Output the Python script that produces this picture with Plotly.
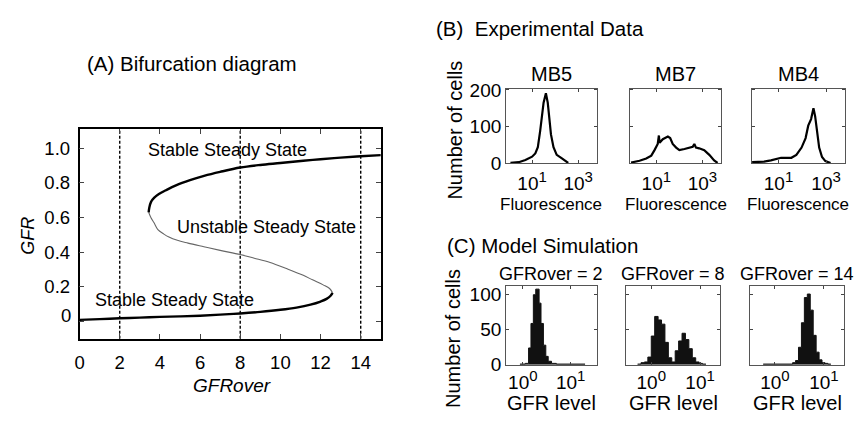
import plotly.graph_objects as go

W, H = 860, 426
FONT = "Arial, 'Liberation Sans', Helvetica, sans-serif"

# ---------------- Panel A: bifurcation diagram data ----------------
lower_gfrover = [0, 1, 2, 3, 4, 5, 6, 7, 8, 9, 10, 10.8, 11.5, 12.0, 12.3, 12.5, 12.6]
lower_gfr = [0.009, 0.013, 0.018, 0.022, 0.026, 0.029, 0.033, 0.039, 0.046, 0.055,
             0.067, 0.08, 0.097, 0.115, 0.13, 0.148, 0.165]
unstable_gfrover = [12.6, 12.45, 12.13, 11.6, 11.14, 10.3, 9.49, 8.7, 8.0, 7.0, 6.19,
                    5.4, 4.87, 4.45, 4.2, 3.9, 3.71, 3.55, 3.44]
unstable_gfr = [0.165, 0.19, 0.211, 0.24, 0.266, 0.305, 0.34, 0.365, 0.386, 0.41, 0.431,
                0.452, 0.468, 0.487, 0.504, 0.53, 0.569, 0.6, 0.63]
upper_gfrover = [3.44, 3.47, 3.56, 3.72, 3.95, 4.3, 4.8, 5.5, 6.2, 7.0, 8.0, 9.0, 10.0,
                 11.14, 12.0, 13.0, 14.0, 15.0]
upper_gfr = [0.63, 0.655, 0.69, 0.714, 0.735, 0.757, 0.785, 0.815, 0.84, 0.863, 0.888,
             0.903, 0.914, 0.927, 0.936, 0.945, 0.953, 0.96]
sim_gfrover_levels = [2, 8, 14]
a_xticks = [0, 2, 4, 6, 8, 10, 12, 14]
a_yticks = [0, 0.2, 0.4, 0.6, 0.8, 1.0]
a_yticklabels = ["", "0.2", "0.4", "0.6", "0.8", "1.0"]

# ---------------- Panel B: experimental data (log10 fluorescence, cells) ----------------
mb5_logf = [0.06, 0.42, 0.71, 1.0, 1.14, 1.25, 1.35, 1.43, 1.5, 1.6, 1.68, 1.75, 1.82,
            1.93, 2.07, 2.28, 2.43, 2.57]
mb5_cells = [0, 2, 8, 17, 26, 43, 87, 130, 165, 191, 165, 122, 78, 43, 22, 13, 6, 0]
mb7_logf = [-0.1, 0.27, 0.56, 0.78, 0.92, 1.06, 1.11, 1.14, 1.28, 1.5, 1.6, 1.71, 1.86,
            2.0, 2.22, 2.43, 2.58, 2.65, 2.72, 2.86, 3.08, 3.3, 3.51, 3.66]
mb7_cells = [1, 6, 12, 20, 35, 52, 75, 55, 65, 72, 68, 52, 42, 35, 38, 42, 44, 52, 42,
             40, 35, 22, 7, 0]
mb4_logf = [-0.11, 0.39, 0.68, 0.9, 1.11, 1.32, 1.54, 1.75, 1.97, 2.14, 2.25, 2.37, 2.47,
            2.54, 2.61, 2.71, 2.83, 2.97, 3.19]
mb4_cells = [2, 3.5, 7, 11, 14, 14, 14, 22, 42, 68, 102, 120, 150, 128, 85, 42, 16, 5, 0]
b_names = ["MB5", "MB7", "MB4"]
b_xtickvals = [10, 1000]
b_xtickexp = ["1", "3"]
b_yticks = [0, 100, 200]

# ---------------- Panel C: model simulation histograms (log10 GFR bin edges, cells) -------
c1_edges = [-0.06, 0.05, 0.12, 0.17, 0.22, 0.27, 0.34, 0.38, 0.43, 0.48, 0.53, 0.60, 0.70, 1.30]
c1_cells = [1, 2, 24, 59, 100, 108, 88, 59, 28, 12, 5, 2, 1]
c2_edges = [-0.28, -0.21, -0.14, -0.07, 0.0, 0.07, 0.14, 0.21, 0.28, 0.35, 0.42, 0.49, 0.56,
            0.63, 0.70, 0.77, 0.84, 0.91, 0.98, 1.05, 1.12]
c2_cells = [1, 3, 4, 11, 41, 69, 64, 58, 32, 10, 4, 20, 34, 45, 36, 23, 10, 4, 2, 1]
c3_edges = [-0.24, 0.36, 0.42, 0.48, 0.54, 0.60, 0.66, 0.72, 0.78, 0.84, 0.90, 0.96, 1.02,
            1.08, 1.14]
c3_cells = [1, 3, 6, 25, 60, 96, 101, 78, 42, 18, 7, 3, 2, 1]
c_titles = ["GFRover = 2", "GFRover = 8", "GFRover = 14"]
c_xtickvals = [1, 10]
c_xtickexp = ["0", "1"]
c_yticks = [0, 50, 100]


def px(x):
    return x / W


def py(y):
    return 1 - y / H


def pow_label(e):
    return '10<sup><span style="font-size:15px">' + e + '</span></sup>'


fig = go.Figure()

# ---- Panel A traces
for xv in sim_gfrover_levels:
    fig.add_trace(go.Scatter(x=[xv, xv], y=[-0.1, 1.11], mode="lines",
                             line=dict(color="black", width=1.4, dash="3px,2px"),
                             xaxis="x", yaxis="y", showlegend=False))
fig.add_trace(go.Scatter(x=lower_gfrover, y=lower_gfr, mode="lines", line_shape="spline",
                         line=dict(color="black", width=2.4), xaxis="x", yaxis="y",
                         showlegend=False))
fig.add_trace(go.Scatter(x=unstable_gfrover, y=unstable_gfr, mode="lines", line_shape="spline",
                         line=dict(color="#666666", width=1.1), xaxis="x", yaxis="y",
                         showlegend=False))
fig.add_trace(go.Scatter(x=upper_gfrover, y=upper_gfr, mode="lines", line_shape="spline",
                         line=dict(color="black", width=2.4), xaxis="x", yaxis="y",
                         showlegend=False))

# ---- Panel B traces
b_data = [(mb5_logf, mb5_cells), (mb7_logf, mb7_cells), (mb4_logf, mb4_cells)]
for i, (lf, cells) in enumerate(b_data):
    ax = str(i + 2)
    fig.add_trace(go.Scatter(x=[10 ** v for v in lf], y=cells, mode="lines",
                             line=dict(color="black", width=2.2),
                             xaxis="x" + ax, yaxis="y" + ax, showlegend=False))

# ---- Panel C traces (step histograms)
c_data = [(c1_edges, c1_cells), (c2_edges, c2_cells), (c3_edges, c3_cells)]
for i, (edges, cells) in enumerate(c_data):
    ax = str(i + 5)
    xs = [10 ** e for e in edges]
    ys = list(cells) + [cells[-1]]
    fig.add_trace(go.Scatter(x=xs, y=ys, mode="lines", line_shape="hv",
                             line=dict(color="#111111", width=1), fill="tozeroy",
                             fillcolor="#111111", xaxis="x" + ax, yaxis="y" + ax,
                             showlegend=False))

layout = dict(
    width=W, height=H, margin=dict(l=0, r=0, t=0, b=0),
    paper_bgcolor="white", plot_bgcolor="white",
    font=dict(family=FONT, color="black"),
)

# Panel A axes
layout["xaxis"] = dict(domain=[px(75), px(378)], range=[0, 15], tickvals=a_xticks,
                       ticks="inside", ticklen=5, showline=True, mirror="ticks",
                       linecolor="black", linewidth=1.6, showgrid=False, zeroline=False,
                       tickfont=dict(size=18.5), ticklabelstandoff=6, anchor="y")
layout["yaxis"] = dict(domain=[py(346), py(126)], range=[-0.1, 1.11], tickvals=a_yticks,
                       ticktext=a_yticklabels, ticks="inside", ticklen=5, showline=True,
                       mirror="ticks", linecolor="black", linewidth=1.6, showgrid=False,
                       zeroline=False, tickfont=dict(size=18.5), ticklabelstandoff=4,
                       anchor="x")

b_boxes = [(504, 595), (629, 720), (751, 845)]
for i, (l, r) in enumerate(b_boxes):
    n = str(i + 2)
    layout["xaxis" + n] = dict(domain=[px(l), px(r)], type="log", range=[-0.13, 3.8],
                               tickvals=b_xtickvals,
                               ticktext=[pow_label(e) for e in b_xtickexp],
                               ticks="inside", ticklen=3, showline=True, mirror="ticks",
                               linecolor="#555555", linewidth=1, showgrid=False,
                               zeroline=False, tickfont=dict(size=19), ticklabelstandoff=3,
                               anchor="y" + n)
    layout["yaxis" + n] = dict(domain=[py(161.5), py(83.7)], range=[0, 203],
                               tickvals=b_yticks, ticks="inside", ticklen=3,
                               showticklabels=(i == 0), showline=True, mirror="ticks",
                               linecolor="#555555", linewidth=1, showgrid=False,
                               zeroline=False, tickfont=dict(size=19), anchor="x" + n)

c_boxes = [(504, 595, [-0.35, 1.54]), (625, 719.3, [-0.51, 1.41]), (749.3, 844, [-0.51, 1.41])]
for i, (l, r, rng) in enumerate(c_boxes):
    n = str(i + 5)
    layout["xaxis" + n] = dict(domain=[px(l), px(r)], type="log", range=rng,
                               tickvals=c_xtickvals,
                               ticktext=[pow_label(e) for e in c_xtickexp],
                               ticks="inside", ticklen=3, showline=True, mirror="ticks",
                               linecolor="#555555", linewidth=1, showgrid=False,
                               zeroline=False, tickfont=dict(size=19), anchor="y" + n)
    layout["yaxis" + n] = dict(domain=[py(373.3), py(291)], range=[0, 112],
                               tickvals=c_yticks, ticks="inside", ticklen=3,
                               showticklabels=(i == 0), showline=True, mirror="ticks",
                               linecolor="#555555", linewidth=1, showgrid=False,
                               zeroline=False, tickfont=dict(size=19), anchor="x" + n)

ann = []


def text(x, y, s, size, xanchor="center", angle=0, italic=False):
    ann.append(dict(x=px(x), y=py(y), xref="paper", yref="paper", text=s, showarrow=False,
                    xanchor=xanchor, yanchor="middle", textangle=angle,
                    font=dict(size=size, family=FONT, color="black",
                              style="italic" if italic else "normal")))


# Panel titles
text(188.3, 56.7, "(A) Bifurcation diagram", 20.5)
text(431.7, 20, "(B)  Experimental Data", 20.5, xanchor="left")
text(442.7, 248.3, "(C) Model Simulation", 20.5, xanchor="left")

# Panel A in-plot labels (data coords)
for xd, yd, s in [(7.36, 0.99, "Stable Steady State"),
                  (9.3, 0.547, "Unstable Steady State"),
                  (4.74, 0.123, "Stable Steady State")]:
    ann.append(dict(x=xd, y=yd, xref="x", yref="y", text=s, showarrow=False,
                    font=dict(size=18, family=FONT, color="black")))
text(68.3, 321.7, "0", 18.5, xanchor="right")
text(228.5, 395, "GFRover", 19, italic=True)
text(23, 238, "GFR", 18, angle=-90, italic=True)

# Panel B labels
for (l, r), name in zip(b_boxes, b_names):
    c = (l + r) / 2
    text(c, 68.3, name, 20)
    text(c, 205, "Fluorescence", 17)
text(451.7, 127.5, "Number of cells", 20, angle=-90)

# Panel C labels
for (l, r, _), t in zip(c_boxes, c_titles):
    c = (l + r) / 2
    text(c, 278.3, t, 18)
    text(c, 413.3, "GFR level", 20)
text(450, 345.8, "Number of cells", 20, angle=-90)

layout["annotations"] = ann
fig.update_layout(**layout)
fig.write_html("out.html")
